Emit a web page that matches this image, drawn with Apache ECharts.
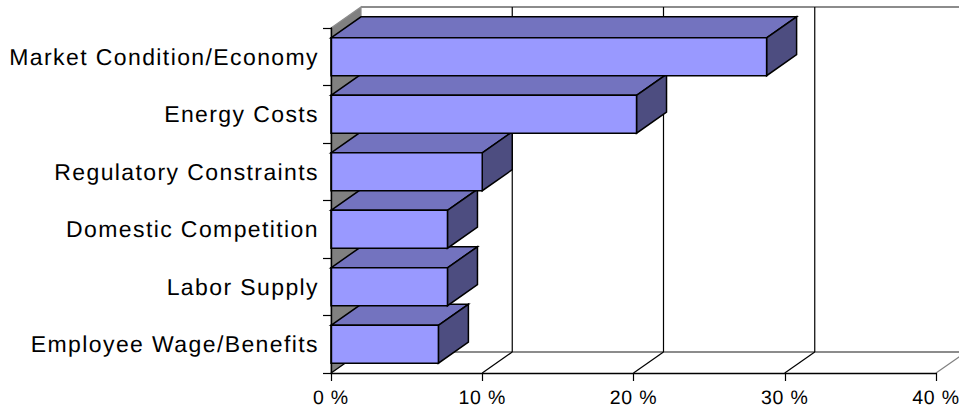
<!DOCTYPE html>
<html>
<head>
<meta charset="utf-8">
<style>
html,body{margin:0;padding:0;background:#fff}
#chart{width:959px;height:409px}
/* Wide tracking on the axis text; category labels are set larger than the percent labels */
#chart text{text-rendering:geometricPrecision}
#chart text[style*="23px"]{letter-spacing:1.4px}
#chart text[style*="19.5px"]{letter-spacing:0.8px}
</style>
<script src="https://cdn.jsdelivr.net/npm/echarts@6/dist/echarts.min.js"></script>
</head>
<body>
<div id="chart"></div>
<script>
const categories = ['Market Condition/Economy', 'Energy Costs', 'Regulatory Constraints', 'Domestic Competition', 'Labor Supply', 'Employee Wage/Benefits'];
const shares = [28.8, 20.2, 10, 7.7, 7.7, 7.1];
const xTicks = [0, 10, 20, 30, 40];

// Pseudo-3D depth of the plot box, in pixels
const DEPTH_X = 30, DEPTH_Y = -21;
const BAR_FRACTION = 0.66;
const FONT = '"Liberation Sans", Arial, sans-serif';
const LINE = '#000';

const shift = p => [p[0] + DEPTH_X, p[1] + DEPTH_Y];
const poly = (points, fill, stroke, lineWidth) => ({
  type: 'polygon',
  shape: { points },
  style: { fill, stroke: stroke || LINE, lineWidth: lineWidth || 1.5 }
});
const seg = (a, b, stroke, lineWidth) => ({
  type: 'line',
  shape: { x1: a[0], y1: a[1], x2: b[0], y2: b[1] },
  style: { stroke, lineWidth: lineWidth || 1, fill: null }
});

// Left wall plus the back wall and floor outlines
function renderBox(params, api) {
  const g = params.coordSys;
  const tl = [g.x, g.y], bl = [g.x, g.y + g.height], br = [g.x + g.width, g.y + g.height];
  const tr = [g.x + g.width, g.y];
  return {
    type: 'group',
    children: [
      poly([tl, shift(tl), shift(bl), bl], '#808080', '#8c8c8c', 1.2),
      seg(shift(tl), shift(tr), '#8c8c8c', 2),
      seg(shift(bl), shift(br), '#8c8c8c', 2)
    ]
  };
}

// One grid line per x tick: along the floor, then up the back wall
function renderGridLine(params, api) {
  const g = params.coordSys;
  const x = api.coord([api.value(0), categories[categories.length - 1]])[0];
  const bottom = [x, g.y + g.height], top = [x, g.y];
  const last = api.value(0) === xTicks[xTicks.length - 1];
  const color = last ? '#808080' : '#000';
  const children = [seg(bottom, shift(bottom), color, 1.2)];
  if (api.value(0) !== 0) children.push(seg(shift(bottom), shift(top), color, 1.2));
  return { type: 'group', children };
}

function renderBar(params, api) {
  const end = api.coord([api.value(0), api.value(1)]);
  const origin = api.coord([0, api.value(1)]);
  const h = api.size([0, 1])[1] * BAR_FRACTION;
  const top = end[1] - h / 2, bottom = end[1] + h / 2;
  const a = [origin[0], top], b = [end[0], top], c = [end[0], bottom], d = [origin[0], bottom];
  return {
    type: 'group',
    children: [
      poly([a, shift(a), shift(b), b], '#7373BF'),
      poly([b, shift(b), shift(c), c], '#4D4D80'),
      poly([a, b, c, d], '#9999FF')
    ]
  };
}

// Painted bottom-up so that each upper bar's face overlaps the top of the bar below it
const barData = categories.map((name, i) => [shares[i], i]).reverse();

const chart = echarts.init(document.getElementById('chart'), null, { renderer: 'svg' });
chart.setOption({
  animation: false,
  backgroundColor: '#fff',
  grid: { left: 331, top: 28, width: 605, height: 345, containLabel: false, outerBoundsMode: 'none' },
  xAxis: {
    type: 'value', min: 0, max: 40, interval: 10, z: 10,
    axisLine: { show: true, onZero: false, lineStyle: { color: '#000', width: 1.4 } },
    axisTick: { show: true, length: 8, lineStyle: { color: '#000', width: 1.2 } },
    axisLabel: { show: true, margin: 15, formatter: '{value} %', color: '#000', fontFamily: FONT, fontSize: 19.5, hideOverlap: false, showMaxLabel: true, showMinLabel: true },
    splitLine: { show: false }
  },
  yAxis: {
    type: 'category', data: categories, inverse: true, z: 10,
    axisLine: { show: true, lineStyle: { color: '#000', width: 1.4 } },
    axisTick: { show: true, length: 8, alignWithLabel: false, lineStyle: { color: '#000', width: 1.2 } },
    axisLabel: { show: true, margin: 12, color: '#000', fontFamily: FONT, fontSize: 23, interval: 0 },
    splitLine: { show: false }
  },
  series: [
    { type: 'custom', name: 'box', z: 1, clip: false, silent: true, renderItem: renderBox, data: [[0, 0]], encode: { x: 0, y: 1 } },
    { type: 'custom', name: 'grid', z: 2, clip: false, silent: true, renderItem: renderGridLine, data: xTicks.map(t => [t, 0]), encode: { x: 0, y: 1 } },
    { type: 'custom', name: 'share', z: 3, clip: false, renderItem: renderBar, data: barData, encode: { x: 0, y: 1 } }
  ]
});
</script>
</body>
</html>
